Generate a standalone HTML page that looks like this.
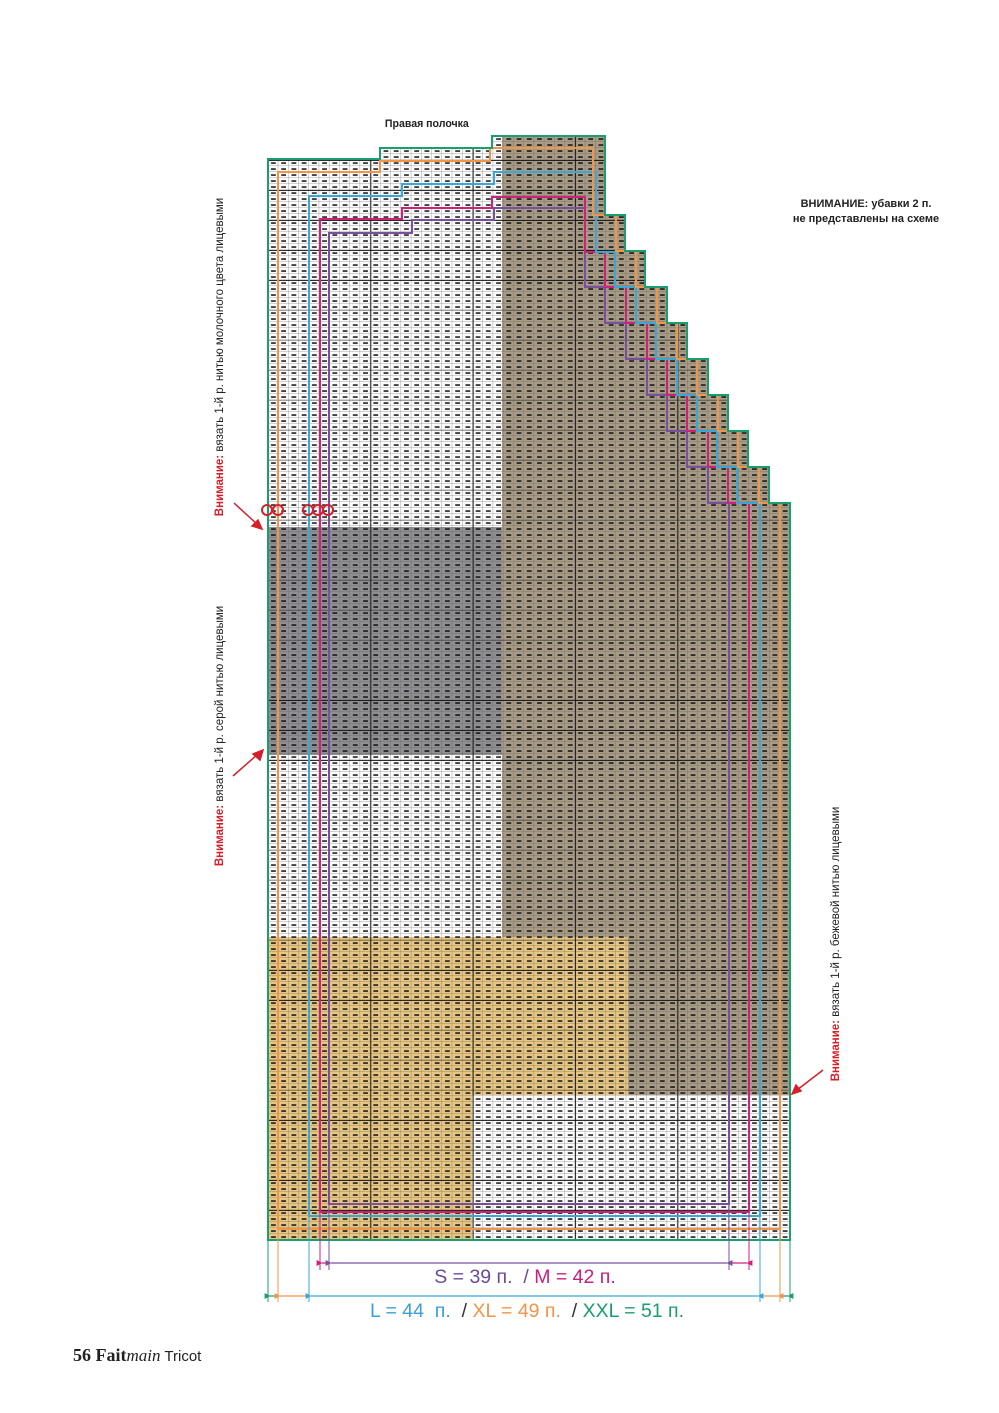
<!DOCTYPE html>
<html><head><meta charset="utf-8"><style>
html,body{margin:0;padding:0;background:#fff}
svg{display:block}
text{font-family:"Liberation Sans",sans-serif}
</style></head><body>
<svg width="999" height="1413" viewBox="0 0 999 1413" xmlns="http://www.w3.org/2000/svg">
<defs>
<pattern id="cell" x="268" y="1240" width="10.235" height="6" patternUnits="userSpaceOnUse">
<path d="M10.235,0V6M0,6H10.235" stroke="#555" stroke-width="0.5" fill="none"/>
<rect x="3" y="2.3" width="4.8" height="1.5" fill="#111"/>
</pattern>
<pattern id="thick" x="268" y="1240" width="102.35" height="30" patternUnits="userSpaceOnUse">
<path d="M0,0V30M0,0H102.35" stroke="#111" stroke-width="1.8" fill="none"/>
</pattern>
<clipPath id="shape"><path d="M268,1240V159H380V148H492V136H605V215H625V251H645V287H667V323H687V359H708V395H728V431H748V467H769V503H790V1240Z"/></clipPath>
<marker id="ap" viewBox="0 0 10 10" refX="1" refY="5" markerWidth="5" markerHeight="5" orient="auto-start-reverse"><path d="M10,0L0,5L10,10Z" fill="context-stroke"/></marker>
</defs>
<g clip-path="url(#shape)">
<rect x="260" y="130" width="540" height="1120" fill="#fbfbfb"/>
<rect x="502" y="130" width="300" height="807" fill="#a99c86"/>
<rect x="628" y="937" width="170" height="158" fill="#a99c86"/>
<rect x="268" y="527" width="234" height="228" fill="#8f8f92"/>
<rect x="268" y="937" width="360" height="158" fill="#e6c682"/>
<rect x="268" y="1095" width="204" height="150" fill="#e6c682"/>
<rect x="260" y="130" width="540" height="1120" fill="url(#cell)"/>
<rect x="260" y="130" width="540" height="1120" fill="url(#thick)"/>
</g>
<g fill="none" stroke-width="2">
<path stroke="#7a4fa0" d="M329,1204V233H412V220H494V208H585V287H605V323H626V359H647V395H667V431H687V467H708V503H729V1204Z"/>
<path stroke="#d0207a" d="M320,1212V219H402V208H492V197H585V252H605V287H626V323H647V359H667V395H687V431H708V467H728V503H749V1212Z"/>
<path stroke="#3aa7d9" d="M309,1216V196H402V184H494V172H596V252H615V287H636V323H656V359H677V395H697V431H717V467H737V503H760V1216Z"/>
<path stroke="#f0954a" d="M278,1229V172H380V161H490V148H593V215H616V251H636V287H657V323H677V359H697V395H718V431H738V467H759V503H780V1229Z"/>
<path stroke="#1a9e6e" d="M268,1240V159H380V148H492V136H605V215H625V251H645V287H667V323H687V359H708V395H728V431H748V467H769V503H790V1240Z"/>
</g>
<g fill="none" stroke="#d3202a" stroke-width="2">
<ellipse cx="267" cy="510" rx="5" ry="5"/><ellipse cx="278" cy="510" rx="5" ry="5"/>
<ellipse cx="308" cy="510" rx="5" ry="5"/><ellipse cx="318" cy="510" rx="5" ry="5"/><ellipse cx="328" cy="510" rx="5" ry="5"/>
</g>
<g stroke="#d3202a" stroke-width="1.5" fill="#d3202a">
<path d="M234,503L258,525" fill="none"/><path d="M262,529L252,526L258,520Z"/>
<path d="M233,776L258,754" fill="none"/><path d="M263,750L260,760L253,754Z"/>
<path d="M823,1070L797,1090" fill="none"/><path d="M792,1094L796,1085L801,1091Z"/>
</g>
<g stroke-width="1">
<path stroke="#1a9e6e" d="M268,1240V1302M790,1240V1302"/>
<path stroke="#f0954a" d="M278,1229V1302M780,1229V1302"/>
<path stroke="#3aa7d9" d="M309,1216V1302M760,1216V1302"/>
<path stroke="#d0207a" d="M320,1212V1270M749,1212V1270"/>
<path stroke="#7a4fa0" d="M329,1204V1270M729,1204V1270"/>
</g>
<g stroke-width="1.2" fill="none">
<path stroke="#d0207a" d="M322,1263H327M731,1263H747" marker-start="url(#ap)" marker-end="url(#ap)"/>
<path stroke="#7a4fa0" d="M331,1263H727" marker-start="url(#ap)" marker-end="url(#ap)"/>
<path stroke="#1a9e6e" d="M270,1296H276M782,1296H788" marker-start="url(#ap)" marker-end="url(#ap)"/>
<path stroke="#f0954a" d="M280,1296H307M762,1296H778" marker-start="url(#ap)" marker-end="url(#ap)"/>
<path stroke="#3aa7d9" d="M311,1296H758" marker-start="url(#ap)" marker-end="url(#ap)"/>
</g>
<text x="525" y="1283" font-size="19.5" text-anchor="middle" xml:space="preserve"><tspan fill="#6a4a9a">S = 39 п.  / </tspan><tspan fill="#c8207a">M = 42 п.</tspan></text>
<text x="527" y="1317" font-size="19.5" text-anchor="middle" xml:space="preserve"><tspan fill="#3aa0d5">L = 44  п.  </tspan><tspan fill="#333">/ </tspan><tspan fill="#f0954a">XL = 49 п.  </tspan><tspan fill="#333">/ </tspan><tspan fill="#1a9e6e">XXL = 51 п.</tspan></text>
<text x="427" y="127" font-size="11.5" font-weight="bold" text-anchor="middle" fill="#222" transform="scale(0.92,1) translate(37,0)">Правая полочка</text>
<text x="866" y="207" font-size="11" font-weight="bold" text-anchor="middle" fill="#222">ВНИМАНИЕ: убавки 2 п.</text>
<text x="866" y="222" font-size="11" font-weight="bold" text-anchor="middle" fill="#222">не представлены на схеме</text>
<text transform="translate(223,357) rotate(-90)" font-size="11.5" text-anchor="middle" fill="#222"><tspan fill="#d3202a" font-weight="bold">Внимание:</tspan> вязать 1-й р. нитью молочного цвета лицевыми</text>
<text transform="translate(223,736) rotate(-90)" font-size="11.5" text-anchor="middle" fill="#222"><tspan fill="#d3202a" font-weight="bold">Внимание:</tspan> вязать 1-й р. серой нитью лицевыми</text>
<text transform="translate(839,944) rotate(-90)" font-size="11.5" text-anchor="middle" fill="#222"><tspan fill="#d3202a" font-weight="bold">Внимание:</tspan> вязать 1-й р. бежевой нитью лицевыми</text>
<text x="73" y="1361" font-size="18" fill="#222"><tspan font-family="Liberation Serif" font-weight="bold">56 Fait</tspan><tspan font-family="Liberation Serif" font-style="italic" font-size="17">main</tspan><tspan font-size="15"> Tricot</tspan></text>
</svg>
</body></html>
